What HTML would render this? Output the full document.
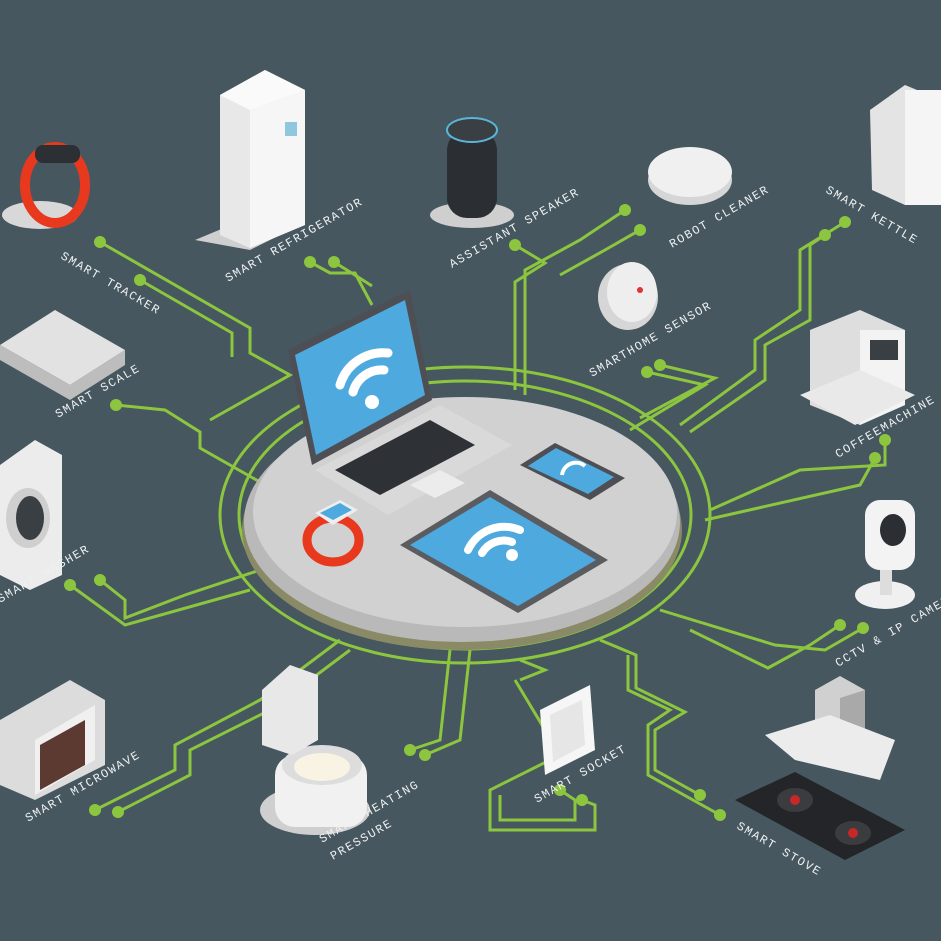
<!DOCTYPE html>
<html><head><meta charset="utf-8"><style>
html,body{margin:0;padding:0;background:#46575f;}
svg{display:block}
.t{font-family:"Liberation Mono",monospace;font-size:12px;fill:#eef0f0;letter-spacing:1.5px}
.g{fill:none;stroke:#8cc63f;stroke-width:3;stroke-linejoin:miter}
.d{fill:#8cc63f}
</style></head><body>
<svg width="941" height="941" viewBox="0 0 941 941" xmlns="http://www.w3.org/2000/svg">
<rect width="941" height="941" fill="#46575f"/>
<!-- circuit lines -->
<g class="g">
<polyline points="100,242 250,328 250,353 290,375 210,420"/>
<polyline points="140,280 232,333 232,357"/>
<polyline points="116,405 165,410 200,432 200,448 260,482"/>
<polyline points="310,262 330,273 355,273 372,305"/>
<polyline points="334,262 358,277 372,286"/>
<polyline points="515,245 545,263 515,282 515,390"/>
<polyline points="625,210 580,240 525,270 525,395"/>
<polyline points="640,230 605,250 560,275"/>
<polyline points="647,372 705,385 630,430"/>
<polyline points="660,365 715,378 640,418"/>
<polyline points="845,222 800,250 800,310 755,340 755,370 680,425"/>
<polyline points="825,235 810,245 810,320 765,345 765,380 690,432"/>
<polyline points="885,440 885,465 800,470 710,510"/>
<polyline points="875,458 860,485 705,520"/>
<polyline points="840,625 810,645 768,668 690,630"/>
<polyline points="863,628 825,650 775,645 660,610"/>
<polyline points="700,795 655,770 655,730 685,712 636,688 636,655 600,640"/>
<polyline points="720,815 648,775 648,725 670,710 628,690 628,655"/>
<polyline points="582,800 595,805 595,830 490,830 490,790 560,755 515,680"/>
<polyline points="560,790 575,800 575,820 500,820 500,795"/>
<polyline points="100,580 125,600 125,618 185,595 260,570"/>
<polyline points="70,585 125,625 250,590"/>
<polyline points="95,810 175,770 175,745 260,700 340,640"/>
<polyline points="118,812 190,775 190,750 270,710 350,650"/>
<polyline points="410,750 440,740 450,650"/>
<polyline points="425,755 460,740 470,650"/>
<polyline points="520,680 545,670 520,660"/>
<ellipse cx="465" cy="515" rx="245" ry="148"/>
<ellipse cx="465" cy="515" rx="226" ry="134"/>
</g>
<g class="d">
<circle cx="100" cy="242" r="6"/><circle cx="140" cy="280" r="6"/><circle cx="116" cy="405" r="6"/>
<circle cx="310" cy="262" r="6"/><circle cx="334" cy="262" r="6"/><circle cx="515" cy="245" r="6"/>
<circle cx="625" cy="210" r="6"/><circle cx="640" cy="230" r="6"/><circle cx="647" cy="372" r="6"/><circle cx="660" cy="365" r="6"/>
<circle cx="845" cy="222" r="6"/><circle cx="825" cy="235" r="6"/><circle cx="885" cy="440" r="6"/><circle cx="875" cy="458" r="6"/>
<circle cx="840" cy="625" r="6"/><circle cx="863" cy="628" r="6"/><circle cx="700" cy="795" r="6"/><circle cx="720" cy="815" r="6"/>
<circle cx="582" cy="800" r="6"/><circle cx="560" cy="790" r="6"/><circle cx="100" cy="580" r="6"/><circle cx="70" cy="585" r="6"/>
<circle cx="95" cy="810" r="6"/><circle cx="118" cy="812" r="6"/><circle cx="410" cy="750" r="6"/><circle cx="425" cy="755" r="6"/>
</g>
<!-- platform -->
<ellipse cx="462" cy="530" rx="220" ry="120" fill="#8a8a66"/>
<ellipse cx="462" cy="522" rx="218" ry="120" fill="#b9b9b9"/>
<ellipse cx="465" cy="512" rx="212" ry="115" fill="#d1d1d1"/>
<!-- laptop -->
<polygon points="315,470 440,405 512,445 388,515" fill="#d9d9d9"/>
<polygon points="335,470 430,420 475,445 380,495" fill="#2e3236"/>
<polygon points="410,485 440,470 465,483 435,498" fill="#ececec"/>
<polygon points="288,350 410,290 432,400 312,465" fill="#4d4f54"/>
<polygon points="295,355 405,300 425,395 316,455" fill="#4ea9de"/>
<g fill="none" stroke="#fff" stroke-width="9" stroke-linecap="round">
<path d="M340,385 A45,45 0 0 1 388,353"/><path d="M353,392 A30,30 0 0 1 384,370"/>
</g><circle cx="372" cy="402" r="7" fill="#fff"/>
<!-- phone -->
<polygon points="520,465 555,443 625,478 590,500" fill="#4d4f54"/>
<polygon points="528,466 556,448 614,477 588,494" fill="#4ea9de"/>
<path d="M562,475 A14,14 0 0 1 585,466" stroke="#fff" stroke-width="4" fill="none"/>
<!-- tablet -->
<polygon points="400,545 490,490 608,560 518,613" fill="#5a5c60"/>
<polygon points="410,545 490,497 596,560 518,606" fill="#4ea9de"/>
<g fill="none" stroke="#fff" stroke-width="8" stroke-linecap="round">
<path d="M468,550 A40,40 0 0 1 520,530"/><path d="M482,553 A25,25 0 0 1 512,542"/></g>
<circle cx="512" cy="555" r="6" fill="#fff"/>
<!-- watch -->
<ellipse cx="333" cy="540" rx="26" ry="22" fill="none" stroke="#e8391e" stroke-width="9"/>
<polygon points="315,513 340,500 358,510 333,525" fill="#eee"/><polygon points="320,513 340,503 352,510 333,520" fill="#4ea9de"/>
<!-- devices -->
<ellipse cx="40" cy="215" rx="38" ry="14" fill="#d8d8d8"/>
<ellipse cx="55" cy="185" rx="30" ry="38" fill="none" stroke="#e8391e" stroke-width="10"/>
<rect x="35" y="145" width="45" height="18" rx="8" fill="#2c2f33"/>
<polygon points="195,240 255,215 300,225 250,250" fill="#cfcfcf"/>
<polygon points="220,95 265,70 305,90 305,225 250,248 220,235" fill="#e8e8e8"/>
<polygon points="250,110 305,90 305,225 250,248" fill="#f6f6f6"/>
<polygon points="220,95 265,70 305,90 250,110" fill="#fafafa"/>
<rect x="285" y="122" width="12" height="14" fill="#8ec7de"/>
<ellipse cx="472" cy="215" rx="42" ry="13" fill="#cfcfcf"/>
<rect x="447" y="130" width="50" height="88" rx="20" fill="#2b2f33"/>
<ellipse cx="472" cy="130" rx="25" ry="12" fill="#3a3f44" stroke="#5ab6d8" stroke-width="2"/>
<ellipse cx="690" cy="180" rx="42" ry="25" fill="#d6d6d6"/><ellipse cx="690" cy="172" rx="42" ry="25" fill="#f0f0f0"/>
<ellipse cx="628" cy="297" rx="30" ry="33" fill="#d6d6d6"/><ellipse cx="632" cy="292" rx="25" ry="30" fill="#eeeeee"/><circle cx="640" cy="290" r="3" fill="#d33"/>
<polygon points="870,110 905,85 941,100 941,190 905,205 872,190" fill="#e4e4e4"/>
<rect x="905" y="90" width="36" height="115" fill="#f5f5f5"/>
<polygon points="810,330 860,310 905,330 905,405 860,425 810,405" fill="#dedede"/>
<polygon points="860,330 905,330 905,405 860,425" fill="#f3f3f3"/>
<rect x="870" y="340" width="28" height="20" fill="#3a3f44"/>
<polygon points="800,395 860,370 915,395 855,425" fill="#e9e9e9"/>
<ellipse cx="885" cy="595" rx="30" ry="14" fill="#f0f0f0"/>
<rect x="880" y="560" width="12" height="35" fill="#ddd"/>
<rect x="865" y="500" width="50" height="70" rx="15" fill="#f3f3f3"/>
<ellipse cx="893" cy="530" rx="13" ry="16" fill="#2b2f33"/>
<polygon points="0,345 55,310 125,350 70,385" fill="#e2e2e2"/><polygon points="0,360 70,400 125,365 125,350 70,385 0,345" fill="#bdbdbd"/>
<polygon points="0,465 35,440 62,455 62,575 30,590 0,575" fill="#ececec"/>
<ellipse cx="28" cy="518" rx="22" ry="30" fill="#cfcfcf"/><ellipse cx="30" cy="518" rx="14" ry="22" fill="#3a3f44"/>
<polygon points="0,720 70,680 105,700 105,765 35,800 0,785" fill="#dcdcdc"/>
<polygon points="35,740 95,705 95,760 35,795" fill="#f0f0f0"/><polygon points="40,745 85,720 85,765 40,790" fill="#5c3a32"/>
<ellipse cx="315" cy="810" rx="55" ry="25" fill="#cfcfcf"/>
<rect x="275" y="755" width="92" height="72" rx="20" fill="#f1f1f1"/>
<ellipse cx="322" cy="765" rx="40" ry="20" fill="#ddd"/><ellipse cx="322" cy="767" rx="28" ry="14" fill="#f9f3e4"/>
<polygon points="262,690 290,665 318,675 318,740 292,755 262,745" fill="#e8e8e8"/>
<polygon points="540,710 590,685 595,750 545,775" fill="#f6f6f6"/><polygon points="550,715 582,700 585,745 553,762" fill="#e6e6e6"/>
<polygon points="815,690 840,676 865,690 865,740 840,754 815,740" fill="#d0d0d0"/>
<polygon points="840,698 865,690 865,740 840,754" fill="#a9a9a9"/>
<polygon points="765,735 830,715 895,740 880,780 795,760" fill="#ececec"/>
<polygon points="735,800 795,772 905,830 845,860" fill="#232528"/>
<ellipse cx="795" cy="800" rx="18" ry="12" fill="#3a3c40"/><circle cx="795" cy="800" r="5" fill="#c62828"/>
<ellipse cx="853" cy="833" rx="18" ry="12" fill="#3a3c40"/><circle cx="853" cy="833" r="5" fill="#c62828"/>
<!-- labels -->
<text class="t" transform="translate(60,258) rotate(30)">SMART TRACKER</text>
<text class="t" transform="translate(228,282) rotate(-30)">SMART REFRIGERATOR</text>
<text class="t" transform="translate(452,268) rotate(-30)">ASSISTANT SPEAKER</text>
<text class="t" transform="translate(672,248) rotate(-30)">ROBOT CLEANER</text>
<text class="t" transform="translate(825,192) rotate(30)">SMART KETTLE</text>
<text class="t" transform="translate(592,377) rotate(-30)">SMARTHOME SENSOR</text>
<text class="t" transform="translate(58,418) rotate(-30)">SMART SCALE</text>
<text class="t" transform="translate(838,458) rotate(-30)">COFFEEMACHINE</text>
<text class="t" transform="translate(0,603) rotate(-30)">SMART WASHER</text>
<text class="t" transform="translate(838,667) rotate(-30)">CCTV &amp; IP CAMERA</text>
<text class="t" transform="translate(28,822) rotate(-30)">SMART MICROWAVE</text>
<text class="t" transform="translate(322,843) rotate(-30)">SMART HEATING</text>
<text class="t" transform="translate(333,860) rotate(-30)">PRESSURE</text>
<text class="t" transform="translate(537,803) rotate(-30)">SMART SOCKET</text>
<text class="t" transform="translate(736,828) rotate(30)">SMART STOVE</text>
</svg>
</body></html>
